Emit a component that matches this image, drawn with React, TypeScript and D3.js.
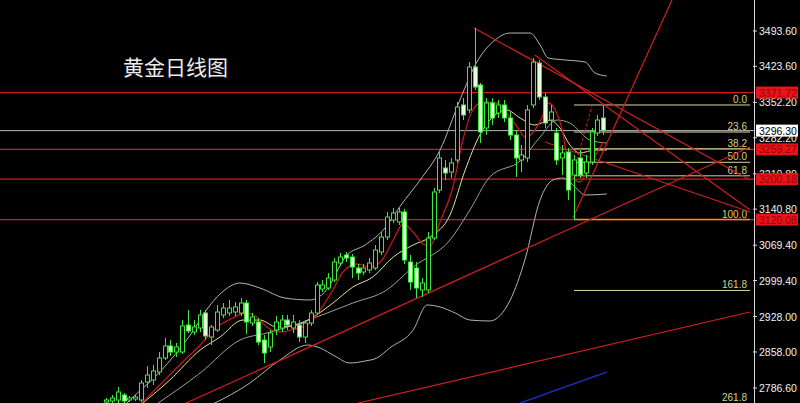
import React from "react";
import * as d3 from "d3";

// ---- Candles (daily gold), price values ----
const opens = [2758.8,2760.8,2762.8,2772.7,2762.8,2764.8,2762.8,2798.5,2802.4,2818.3,2846.0,2869.8,2857.9,2857.9,2911.3,2897.5,2905.4,2935.1,2887.6,2901.4,2931.2,2935.1,2937.1,2935.1,2954.9,2915.3,2917.3,2881.6,2867.8,2901.4,2905.4,2921.2,2905.4,2911.3,2887.6,2915.3,2935.1,2982.6,2984.6,3000.5,3034.1,3050.0,3046.0,3024.2,3016.3,3020.3,3024.2,3055.9,3085.6,3119.3,3115.3,3135.2,3036.1,3024.2,2980.7,2980.7,3083.6,3178.7,3222.3,3214.3,3238.1,3347.1,3337.2,3422.3,3386.7,3301.5,3351.0,3331.2,3347.1,3321.3,3287.6,3238.1,3242.1,3347.1,3430.2,3362.9,3317.3,3291.6,3242.1,3253.9,3208.4,3242.1,3212.4,3234.2,3291.6,3321.3];
const highs = [2766.8,2772.7,2788.6,2776.7,2770.7,2772.7,2802.4,2830.2,2832.1,2857.9,2885.6,2881.6,2875.7,2921.2,2941.1,2921.2,2941.1,2941.1,2911.3,2951.0,2954.9,2960.9,2956.9,2964.8,2960.9,2935.1,2925.2,2891.5,2901.4,2929.2,2931.2,2931.2,2931.2,2921.2,2921.2,2941.1,2996.5,3000.5,3014.3,3044.0,3054.0,3055.9,3052.0,3032.2,3032.2,3044.0,3069.8,3095.5,3135.2,3143.1,3143.1,3141.1,3050.0,3036.1,3004.4,3095.5,3182.7,3253.9,3238.1,3242.1,3353.0,3360.9,3432.2,3499.5,3390.6,3360.9,3360.9,3357.0,3357.0,3333.2,3297.5,3267.8,3347.1,3440.1,3436.2,3370.8,3347.1,3301.5,3267.8,3261.9,3248.0,3257.9,3248.0,3301.5,3327.2,3347.1];
const lows = [2752.0,2756.8,2756.8,2756.8,2758.8,2760.8,2758.8,2786.6,2792.5,2812.3,2842.0,2850.0,2848.0,2853.9,2895.5,2891.5,2897.5,2881.6,2871.7,2897.5,2925.2,2929.2,2929.2,2929.2,2893.5,2909.4,2871.7,2836.1,2857.9,2891.5,2897.5,2901.4,2895.5,2877.7,2875.7,2909.4,2931.2,2976.7,2980.7,2996.5,3028.2,3036.1,3004.4,3000.5,3010.4,3014.3,3020.3,3050.0,3079.7,3113.4,3109.4,3032.2,2980.7,2964.8,2966.8,2974.7,3079.7,3172.8,3198.5,3202.5,3232.2,3317.3,3331.2,3376.8,3271.8,3287.6,3307.4,3321.3,3313.4,3277.7,3204.5,3214.3,3234.2,3341.1,3357.0,3301.5,3297.5,3228.2,3208.4,3159.0,3120.08,3202.5,3202.5,3228.2,3285.7,3287.6];
const closes = [2762.8,2766.8,2778.7,2760.8,2766.8,2768.7,2796.5,2812.3,2820.3,2846.0,2869.8,2857.9,2867.8,2909.4,2899.5,2907.4,2931.2,2889.6,2907.4,2937.1,2945.0,2945.0,2947.0,2954.9,2917.3,2927.2,2877.7,2855.9,2895.5,2917.3,2921.2,2911.3,2917.3,2887.6,2915.3,2935.1,2990.6,2990.6,3004.4,3036.1,3046.0,3044.0,3026.2,3014.3,3024.2,3034.1,3059.9,3085.6,3125.2,3133.2,3135.2,3040.1,2996.5,2984.6,2994.5,3083.6,3174.8,3242.1,3212.4,3232.2,3343.1,3327.2,3422.3,3382.7,3293.6,3351.0,3321.3,3347.1,3321.3,3287.6,3242.1,3248.0,3337.2,3432.2,3362.9,3311.4,3333.2,3238.1,3252.0,3178.7,3238.1,3208.4,3234.2,3293.6,3317.3,3296.3];

// ---- Indicator curves: [bar index, price] ----
const upperBand = [[2.4,2743],[4.1,2762.8],[9.2,2818.3],[14.4,2891.5],[17.8,2951.0],[20.3,2980.7],[22.9,2994.5],[26.3,2984.6],[30.6,2964.8],[34.9,2960.9],[37.4,2976.7],[41.2,3050.0],[44.3,3069.8],[47.7,3103.5],[50.3,3147.0],[53.7,3198.5],[57.1,3257.9],[60.5,3357.0],[63.4,3432.2],[66.5,3475.8],[69.1,3489.6],[72.5,3489.6],[74.2,3465.9],[75.6,3440.1],[78.5,3436.2],[81.9,3432.2],[83.6,3410.4],[85.6,3404.5]];
const lowerBand = [[16.1,2743],[24.6,2796.5],[29.7,2842.0],[34.5,2871.7],[36.6,2865.8],[39.1,2850.0],[41.7,2836.1],[44.3,2840.1],[46.3,2846.0],[48.5,2865.8],[52.5,2901.4],[54.9,2951.0],[57.1,2947.0],[59.7,2935.1],[62.2,2921.2],[65.6,2919.3],[69.1,2960.9],[71.6,3040.1],[74.2,3159.0],[76.4,3198.5],[78.1,3202.5],[80.2,3184.7],[81.9,3168.8],[85.6,3170.8]];
const midBand = [[8.9,2756.8],[16.1,2816.3],[22.9,2881.6],[27.5,2895.5],[33.2,2915.3],[37.8,2935.1],[42.2,2954.9],[48.0,2980.7],[52.5,3026.2],[58.8,3079.7],[62.2,3139.1],[65.6,3204.5],[71.0,3238.1],[74.2,3283.7],[77.1,3317.3],[79.3,3311.4],[82.7,3277.7],[85.6,3271.8]];
const maYellow = [[6.3,2756.8],[10.9,2802.4],[16.1,2861.9],[19.5,2887.6],[23.4,2921.2],[26.3,2921.2],[29.2,2907.4],[32.6,2911.3],[35.4,2927.2],[38.8,2954.9],[42.2,2986.6],[45.6,3006.4],[49.1,3046.0],[52.5,3069.8],[55.4,3085.6],[58.8,3129.2],[61.4,3218.3],[63.9,3287.6],[66.5,3327.2],[68.5,3337.2],[70.8,3321.3],[73.3,3307.4],[75.9,3317.3],[77.6,3301.5],[79.3,3267.8],[81.0,3252.0],[83.6,3257.9],[85.6,3257.9]];
const maRed = [[5.8,2752.9],[9.2,2792.5],[12.6,2832.1],[16.1,2871.7],[19.0,2907.4],[21.7,2925.2],[23.8,2935.1],[25.5,2929.2],[27.5,2907.4],[29.7,2897.5],[32.3,2903.4],[34.9,2915.3],[36.6,2941.1],[38.8,2980.7],[40.5,3016.3],[42.9,3032.2],[45.1,3026.2],[47.2,3040.1],[49.1,3079.7],[50.8,3111.4],[52.5,3095.5],[54.2,3071.8],[55.4,3067.8],[57.1,3115.3],[59.3,3184.7],[61.0,3277.7],[62.7,3337.2],[64.4,3353.0],[66.8,3351.0],[68.5,3331.2],[70.3,3303.5],[71.8,3281.7],[73.3,3297.5],[74.5,3321.3],[75.6,3351.0],[76.8,3337.2],[78.0,3297.5],[78.8,3244.1],[79.7,3204.5],[81.0,3194.6],[82.7,3228.2],[85.0,3273.8]];

// ---- Drawn trend lines: [start index, start price, end index, end price] ----
const redTrendLines = [
  [62.9,3499.5,110.1,3198.5],
  [73.3,3446.1,110.1,3139.1],
  [75.0,3273.8,110.1,3135.2],
  [13.7,2756.8,110.1,3263.9],
  [79.8,3123.3,96.75,3555.0],
  [43.1,2756.8,110.1,2937.1],
];
const dashedTrend = [80.5,3238.1,83.1,3347.1];
const blueTrend = [70.8,2756.8,85.6,2818.3];

// ---- Levels ----
const redLevels = [3371.72,3259.27,3200.18,3120.08];
const redLevelLabels = ["3371.72","3259.27","3200.18","3120.08"];
const lastPrice = 3296.30;
const lastPriceLabel = "3296.30";
const tickValues = [3493.60,3423.60,3352.20,3282.20,3210.80,3140.80,3069.40,2999.40,2928.00,2858.00,2786.60];
const fibHigh = 3347.1;
const fibLow = 3120.08;
const fibStartIndex = 80;
const fibLevels = [0,23.6,38.2,50,61.8,100,161.8,261.8];
const fibLabels = ["0.0","23.6","38.2","50.0","61.8","100.0","161.8","261.8"];
const title = "黄金日线图";

const W = 800, H = 403, AXIS_X = 754, FIB_END = 750;

export default function App() {
  const x = d3.scaleLinear().domain([0, 85]).range([106, 603.25]);
  const y = d3.scaleLinear().domain([2786.6, 3493.6]).range([388, 31]);
  const line = d3.line<number[]>().x(d => x(d[0])).y(d => y(d[1])).curve(d3.curveMonotoneX);
  const bw = 4;
  const green = "#3ee83e";
  const bearFill = "#e2ffd8";
  const red = "#cf1f1f";
  const fibColor = "#d6d69c";
  const fibVal = (p: number) => fibHigh - (p / 100) * (fibHigh - fibLow);

  return (
    <div style={{ position: "fixed", left: 0, top: 0, width: W, height: H, background: "#000" }}>
      <svg width={W} height={H} style={{ display: "block", background: "#000" }}>
        <defs>
          <clipPath id="plot"><rect x={0} y={0} width={AXIS_X} height={H} /></clipPath>
        </defs>
        <g clipPath="url(#plot)">
          {redLevels.map((v, i) => (
            <line key={"rl" + i} x1={0} x2={AXIS_X} y1={y(v)} y2={y(v)} stroke={red} strokeWidth={1.2} />
          ))}
          <line x1={0} x2={AXIS_X} y1={y(lastPrice)} y2={y(lastPrice)} stroke="#b8b8b8" strokeWidth={1} />

          {fibLevels.map((p, i) => (
            <g key={"fib" + i}>
              <line x1={x(fibStartIndex)} x2={FIB_END} y1={y(fibVal(p))} y2={y(fibVal(p))}
                stroke={p === 100 ? "#ff8c1a" : fibColor} strokeWidth={p === 100 ? 1.5 : 1} />
              <text x={747} y={Math.min(y(fibVal(p)) - 2, 401)} textAnchor="end" fontFamily="Liberation Sans, Arial, sans-serif"
                fontSize={10} fill={p === 100 ? "#e8c860" : "#d2d28a"}>{fibLabels[i]}</text>
            </g>
          ))}

          <path d={line(upperBand as any) || ""} fill="none" stroke="#b4b4b4" strokeWidth={1} />
          <path d={line(lowerBand as any) || ""} fill="none" stroke="#b4b4b4" strokeWidth={1} />
          <path d={line(midBand as any) || ""} fill="none" stroke="#8fa88f" strokeWidth={1} />
          <path d={line(maYellow as any) || ""} fill="none" stroke="#e6e0a0" strokeWidth={1} />
          <path d={line(maRed as any) || ""} fill="none" stroke="#c01818" strokeWidth={1.3} />

          {redTrendLines.map((t, i) => (
            <line key={"tl" + i} x1={x(t[0])} y1={y(t[1])} x2={x(t[2])} y2={y(t[3])} stroke={red} strokeWidth={1.2} />
          ))}
          <line x1={x(dashedTrend[0])} y1={y(dashedTrend[1])} x2={x(dashedTrend[2])} y2={y(dashedTrend[3])}
            stroke={red} strokeWidth={1} strokeDasharray="3,2" />
          <line x1={x(blueTrend[0])} y1={y(blueTrend[1])} x2={x(blueTrend[2])} y2={y(blueTrend[3])}
            stroke="#1c2ab0" strokeWidth={1.5} />

          {closes.map((c, i) => {
            const o = opens[i];
            const cx = Math.round(x(i)) + 0.5;
            const top = y(Math.max(o, c));
            const bot = y(Math.min(o, c));
            const bear = c < o;
            return (
              <g key={"c" + i}>
                <line x1={cx} x2={cx} y1={y(highs[i])} y2={top} stroke={green} strokeWidth={1} />
                <line x1={cx} x2={cx} y1={bot} y2={y(lows[i])} stroke={green} strokeWidth={1} />
                <rect x={cx - bw / 2} y={top} width={bw} height={Math.max(1, bot - top)}
                  fill={bear ? bearFill : "#000"} stroke={green} strokeWidth={1} />
              </g>
            );
          })}
        </g>

        <text x={123} y={75} fontFamily="Noto Sans CJK SC, sans-serif" fontSize={21} fill="#ececec">{title}</text>

        <line x1={AXIS_X + 0.5} x2={AXIS_X + 0.5} y1={0} y2={H} stroke="#d8d8d8" strokeWidth={1} />
        {tickValues.map((v, i) => (
          <g key={"t" + i}>
            <line x1={AXIS_X - 1} x2={AXIS_X + 3} y1={y(v)} y2={y(v)} stroke="#d8d8d8" />
            <text x={759} y={y(v) + 4} fontFamily="Liberation Sans, Arial, sans-serif" fontSize={10.5} fill="#f0f0f0">
              {v.toFixed(2)}
            </text>
          </g>
        ))}
        {redLevels.map((v, i) => (
          <g key={"rb" + i}>
            <rect x={756} y={y(v) - 6} width={42} height={12} fill="#e8141a" />
            <text x={759} y={y(v) + 4} fontFamily="Liberation Sans, Arial, sans-serif" fontSize={10.5} fill="#9a0000">
              {redLevelLabels[i]}
            </text>
          </g>
        ))}
        <rect x={756} y={y(lastPrice) - 6} width={42} height={12} fill="#ffffff" />
        <text x={759} y={y(lastPrice) + 4} fontFamily="Liberation Sans, Arial, sans-serif" fontSize={10.5} fill="#000">
          {lastPriceLabel}
        </text>
      </svg>
    </div>
  );
}
